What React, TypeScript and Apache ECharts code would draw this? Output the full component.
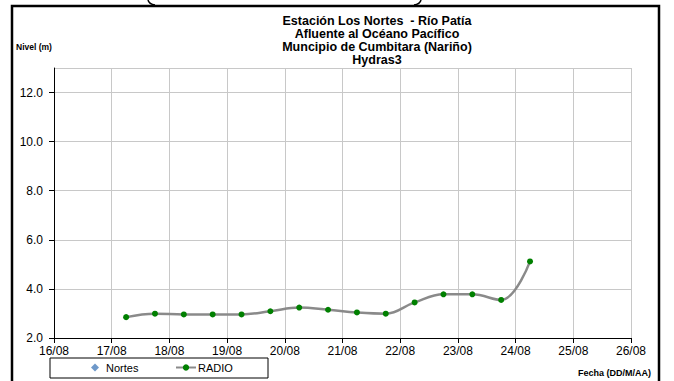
import React, { useEffect, useRef } from "react";
import * as echarts from "echarts";

const titleLines = [
  "Estación Los Nortes  - Río Patía",
  "Afluente al Océano Pacífico",
  "Muncipio de Cumbitara (Nariño)",
  "Hydras3",
];
const yAxisName = "Nivel (m)";
const xAxisName = "Fecha (DD/M/AA)";
const seriesNames = ["Nortes", "RADIO"];
const dayTicks = [16, 17, 18, 19, 20, 21, 22, 23, 24, 25, 26];
const monthLabel = "08";
const radioTimes = [
  "17/08 06:00", "17/08 18:00", "18/08 06:00", "18/08 18:00", "19/08 06:00",
  "19/08 18:00", "20/08 06:00", "20/08 18:00", "21/08 06:00", "21/08 18:00",
  "22/08 06:00", "22/08 18:00", "23/08 06:00", "23/08 18:00", "24/08 06:00",
];
const radioValues = [2.85, 2.99, 2.96, 2.96, 2.96, 3.09, 3.24, 3.15, 3.04, 2.99, 3.45, 3.78, 3.78, 3.55, 5.12];
const nortesValues: number[][] = [];

function toDay(s: string): number {
  const [d, t] = s.split(" ");
  const day = parseInt(d.split("/")[0], 10);
  const [hh, mm] = t.split(":").map((x) => parseInt(x, 10));
  return day + (hh + mm / 60) / 24;
}

const FONT = "Liberation Sans, Arial, sans-serif";

export default function App() {
  const ref = useRef<HTMLDivElement>(null);
  useEffect(() => {
    if (!ref.current) return;
    const chart = echarts.init(ref.current, undefined, { renderer: "svg" });
    const radioData = radioTimes.map((t, i) => [toDay(t), radioValues[i]]);
    const titleGraphics = titleLines.map((line, i) => ({
      type: "text",
      x: 377,
      y: 21 + i * 13,
      style: {
        text: line,
        fontSize: 12.5,
        fontWeight: "bold",
        fontFamily: FONT,
        textAlign: "center",
        textVerticalAlign: "middle",
        fill: "#000",
      },
    }));
    chart.setOption({
      animation: false,
      backgroundColor: "#ffffff",
      textStyle: { fontFamily: FONT },
      grid: { left: 54, right: 43, top: 68, bottom: 43, containLabel: false },
      xAxis: {
        type: "value",
        min: dayTicks[0],
        max: dayTicks[dayTicks.length - 1],
        interval: 1,
        axisLine: { show: true, onZero: false, lineStyle: { color: "#000", width: 1 } },
        axisTick: { show: true, inside: false, length: 5, lineStyle: { color: "#000" } },
        axisLabel: {
          color: "#000",
          fontSize: 12,
          fontFamily: FONT,
          margin: 7,
          formatter: (v: number) => `${v}/${monthLabel}`,
        },
        splitLine: { show: true, lineStyle: { color: "#c8c8c8", width: 1 } },
      },
      yAxis: {
        type: "value",
        min: 2,
        max: 13,
        interval: 2,
        axisLine: { show: true, lineStyle: { color: "#000", width: 1 } },
        axisTick: { show: true, inside: false, length: 5, lineStyle: { color: "#000" } },
        axisLabel: {
          color: "#000",
          fontSize: 12,
          fontFamily: FONT,
          margin: 11,
          showMaxLabel: false,
          formatter: (v: number) => (v % 2 === 0 ? v.toFixed(1) : ""),
        },
        splitLine: { show: true, lineStyle: { color: "#c8c8c8", width: 1 } },
      },
      legend: [
        {
          left: 91,
          top: 362,
          padding: 0,
          itemWidth: 8,
          itemHeight: 8,
          textStyle: { fontSize: 11, color: "#000", fontFamily: FONT, padding: [0, 0, 0, 2] },
          data: [{ name: seriesNames[0], icon: "diamond" }],
        },
        {
          left: 175,
          top: 362,
          padding: 0,
          itemWidth: 20,
          itemHeight: 8,
          textStyle: { fontSize: 11, color: "#000", fontFamily: FONT, padding: [0, 0, 0, -3] },
          data: [{ name: seriesNames[1] }],
        },
      ],
      series: [
        {
          name: seriesNames[0],
          type: "scatter",
          symbol: "diamond",
          symbolSize: 8,
          itemStyle: { color: "#4a7ebb" },
          data: nortesValues,
        },
        {
          name: seriesNames[1],
          type: "line",
          smooth: 0.4,
          symbol: "circle",
          symbolSize: 6,
          showSymbol: true,
          lineStyle: { color: "#8a8a8a", width: 2.5 },
          itemStyle: { color: "#008000", borderWidth: 0 },
          data: radioData,
        },
      ],
      graphic: [
        {
          type: "rect",
          shape: { x: 12, y: 6, width: 647, height: 400 },
          style: { fill: "none", stroke: "#000", lineWidth: 2.5 },
          silent: true,
        },
        {
          type: "rect",
          shape: { x: 50, y: 358, width: 218, height: 20 },
          style: { fill: "none", stroke: "#000", lineWidth: 1 },
          silent: true,
          z: -1,
        },
        {
          type: "bezierCurve",
          shape: { x1: 148, y1: 0, x2: 155, y2: 5, cpx1: 149, cpy1: 4 },
          style: { fill: "none", stroke: "#000", lineWidth: 1.5 },
        },
        {
          type: "bezierCurve",
          shape: { x1: 421, y1: 0, x2: 414, y2: 5, cpx1: 420, cpy1: 4 },
          style: { fill: "none", stroke: "#000", lineWidth: 1.5 },
        },
        ...titleGraphics,
        {
          type: "text",
          x: 16,
          y: 47,
          style: {
            text: yAxisName,
            fontSize: 8.5,
            fontWeight: "bold",
            fontFamily: FONT,
            textAlign: "left",
            textVerticalAlign: "middle",
            fill: "#000",
          },
        },
        {
          type: "text",
          x: 651,
          y: 373,
          style: {
            text: xAxisName,
            fontSize: 9,
            fontWeight: "bold",
            fontFamily: FONT,
            textAlign: "right",
            textVerticalAlign: "middle",
            fill: "#000",
          },
        },
      ],
    });
    return () => chart.dispose();
  }, []);
  return (
    <div
      ref={ref}
      style={{ position: "fixed", left: 0, top: 0, width: 674, height: 381, background: "#fff" }}
    />
  );
}
